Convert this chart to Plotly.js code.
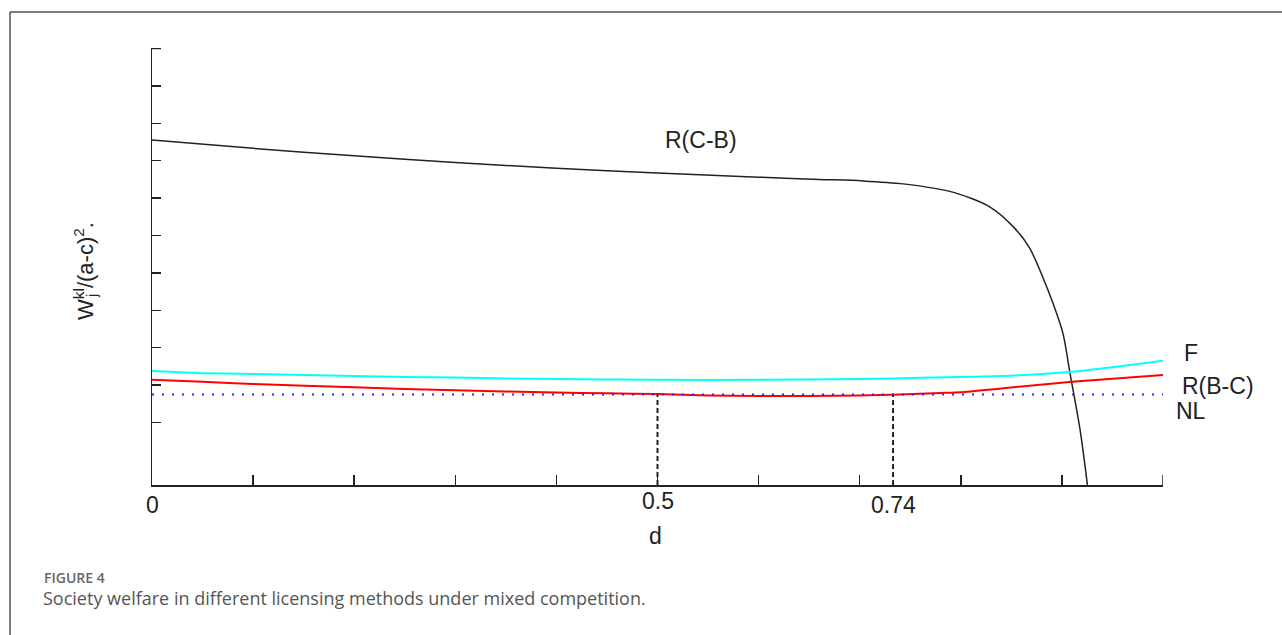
<!DOCTYPE html>
<html>
<head>
<meta charset="utf-8">
<script src="https://cdn.plot.ly/plotly-3.0.1.min.js"></script>
<style>
  html, body { margin: 0; padding: 0; background: #fff; }
  #chart { width: 1282px; height: 635px; }
</style>
</head>
<body>
<div id="chart"></div>
<script>
// ---- data ----
const dBlack = [0, 0.1, 0.2, 0.3, 0.4, 0.5, 0.6, 0.66, 0.703, 0.743, 0.792, 0.829, 0.852, 0.868, 0.881, 0.891, 0.901, 0.908, 0.918, 0.927];
const wRCB   = [0.1955, 0.1933, 0.1913, 0.1895, 0.1880, 0.1867, 0.1856, 0.1850, 0.1846, 0.1838, 0.1816, 0.1776, 0.1723, 0.1667, 0.1589, 0.1520, 0.1439, 0.1332, 0.1180, 0.0995];

const dF = [0, 0.05, 0.1, 0.2, 0.3, 0.4, 0.5, 0.6, 0.7, 0.77, 0.84, 0.91, 0.95, 1.0];
const wF = [0.1338, 0.1332, 0.1330, 0.1324, 0.1320, 0.1316, 0.1314, 0.1314, 0.1316, 0.1320, 0.1324, 0.1336, 0.1348, 0.1365];

const dRBC = [0, 0.05, 0.1, 0.2, 0.3, 0.4, 0.45, 0.5, 0.55, 0.6, 0.65, 0.7, 0.74, 0.78, 0.8, 0.84, 0.91, 1.0];
const wRBC = [0.1314, 0.1309, 0.1303, 0.1294, 0.1286, 0.1280, 0.1278, 0.1276, 0.1272, 0.1271, 0.1271, 0.1272, 0.1275, 0.1279, 0.1281, 0.1291, 0.1309, 0.1327];

const dNL = [0, 1.0];
const wNL = [0.1275, 0.1275];

const markD = [0.5, 0.733];
const markLabels = ['0.5', '0.74'];
const xTickVals = [0, 0.1, 0.2, 0.3, 0.4, 0.5, 0.6, 0.7, 0.8, 0.9, 1.0];
const yTickVals = [0.12, 0.13, 0.14, 0.15, 0.16, 0.17, 0.18, 0.19, 0.20, 0.21, 0.22];
const seriesNames = ['R(C-B)', 'F', 'R(B-C)', 'NL'];

// ---- layout helpers (pixel -> paper) ----
const L = 152, R = 1163, T = 48, B = 485;
const px = v => (v - L) / (R - L);
const py = v => (B - v) / (B - T);
const yMin = 0.10329, yMax = 0.22013;

const TXT = '#222';
const lab = {family: 'Liberation Sans, Arial, sans-serif', size: 23, color: TXT};

const traces = [
  {x: dBlack, y: wRCB, mode: 'lines', name: seriesNames[0], line: {color: '#222', width: 1.5, shape: 'spline', smoothing: 0.8}},
  {x: dF, y: wF, mode: 'lines', name: seriesNames[1], line: {color: '#00ffff', width: 2, shape: 'spline', smoothing: 0.6}},
  {x: dRBC, y: wRBC, mode: 'lines', name: seriesNames[2], line: {color: '#ff0000', width: 2, shape: 'spline', smoothing: 0.6}},
  {x: dNL, y: wNL, mode: 'lines', name: seriesNames[3], line: {color: '#2b2bff', width: 2, dash: '2px,8px'}}
];
// dashed drop lines at marked d values
markD.forEach(d => {
  traces.push({x: [d, d], y: [yMin, wNL[0]], mode: 'lines', showlegend: false,
    line: {color: '#222', width: 2, dash: '5px,3px'}});
});

const annotations = [
  {xref: 'paper', yref: 'paper', x: px(701), y: py(140), text: seriesNames[0], showarrow: false, font: lab, xanchor: 'center', yanchor: 'middle'},
  {xref: 'paper', yref: 'paper', x: px(1182), y: py(352.5), text: seriesNames[1], showarrow: false, font: lab, xanchor: 'left', yanchor: 'middle'},
  {xref: 'paper', yref: 'paper', x: px(1180), y: py(386), text: seriesNames[2], showarrow: false, font: lab, xanchor: 'left', yanchor: 'middle'},
  {xref: 'paper', yref: 'paper', x: px(1174), y: py(411), text: seriesNames[3], showarrow: false, font: lab, xanchor: 'left', yanchor: 'middle'},
  // x tick labels
  {xref: 'x', yref: 'paper', x: 0, y: py(505), text: '0', showarrow: false, font: lab, xanchor: 'center', yanchor: 'middle'},
  {xref: 'x', yref: 'paper', x: markD[0], y: py(501.5), text: markLabels[0], showarrow: false, font: lab, xanchor: 'center', yanchor: 'middle'},
  {xref: 'paper', yref: 'paper', x: px(893), y: py(505.5), text: markLabels[1], showarrow: false, font: lab, xanchor: 'center', yanchor: 'middle'},
  // x axis title
  {xref: 'paper', yref: 'paper', x: px(655), y: py(536), text: 'd', showarrow: false, font: lab, xanchor: 'center', yanchor: 'middle'},
  // y axis title
  {xref: 'paper', yref: 'paper', x: px(84), y: py(271), text: 'W<sup>kl</sup>/(a-c)<sup>2</sup>.', textangle: -90, showarrow: false,
    font: {family: 'Liberation Sans, Arial, sans-serif', size: 22, color: TXT}, xanchor: 'center', yanchor: 'middle'},
  {xref: 'paper', yref: 'paper', x: px(91), y: py(296), text: 'j', textangle: -90, showarrow: false,
    font: {family: 'Liberation Sans, Arial, sans-serif', size: 15, color: TXT}, xanchor: 'center', yanchor: 'middle'},
  // caption
  {xref: 'paper', yref: 'paper', x: px(42), y: py(577), text: 'FIGURE 4', showarrow: false,
    font: {family: 'Open Sans, sans-serif', size: 14, color: '#666', weight: 600}, xanchor: 'left', yanchor: 'middle'},
  {xref: 'paper', yref: 'paper', x: px(41), y: py(598), text: 'Society welfare in different licensing methods under mixed competition.', showarrow: false,
    font: {family: 'Open Sans, sans-serif', size: 18, color: '#555'}, xanchor: 'left', yanchor: 'middle'}
];

const shapes = [
  {type: 'line', xref: 'paper', yref: 'paper', x0: px(10), x1: px(1290), y0: py(12), y1: py(12), line: {color: '#555', width: 1.5}},
  {type: 'line', xref: 'paper', yref: 'paper', x0: px(10), x1: px(10), y0: py(12), y1: py(640), line: {color: '#555', width: 1.5}},
  // end ticks that Plotly hides at the range edges
  {type: 'line', xref: 'paper', yref: 'y', x0: 0, x1: px(161), y0: yTickVals[yTickVals.length - 1], y1: yTickVals[yTickVals.length - 1], line: {color: '#222', width: 1.5}},
  {type: 'line', xref: 'x', yref: 'paper', x0: xTickVals[xTickVals.length - 1], x1: xTickVals[xTickVals.length - 1], y0: 0, y1: py(475), line: {color: '#222', width: 1.5}}
];

const layout = {
  width: 1282, height: 635,
  margin: {l: L, r: 1282 - R, t: T, b: 635 - B, pad: 0},
  paper_bgcolor: '#fff', plot_bgcolor: '#fff',
  showlegend: false,
  xaxis: {range: [0, 1], showgrid: false, zeroline: false, showline: true, linecolor: '#222', linewidth: 1.5,
    ticks: 'inside', ticklen: 10, tickwidth: 1.5, tickcolor: '#222', tickmode: 'array', tickvals: xTickVals, showticklabels: false},
  yaxis: {range: [yMin, yMax], showgrid: false, zeroline: false, showline: true, linecolor: '#222', linewidth: 1.5,
    ticks: 'inside', ticklen: 9, tickwidth: 1.5, tickcolor: '#222', tickmode: 'array', tickvals: yTickVals, showticklabels: false},
  annotations: annotations,
  shapes: shapes
};

Plotly.newPlot('chart', traces, layout, {staticPlot: true, displayModeBar: false});
</script>
</body>
</html>
